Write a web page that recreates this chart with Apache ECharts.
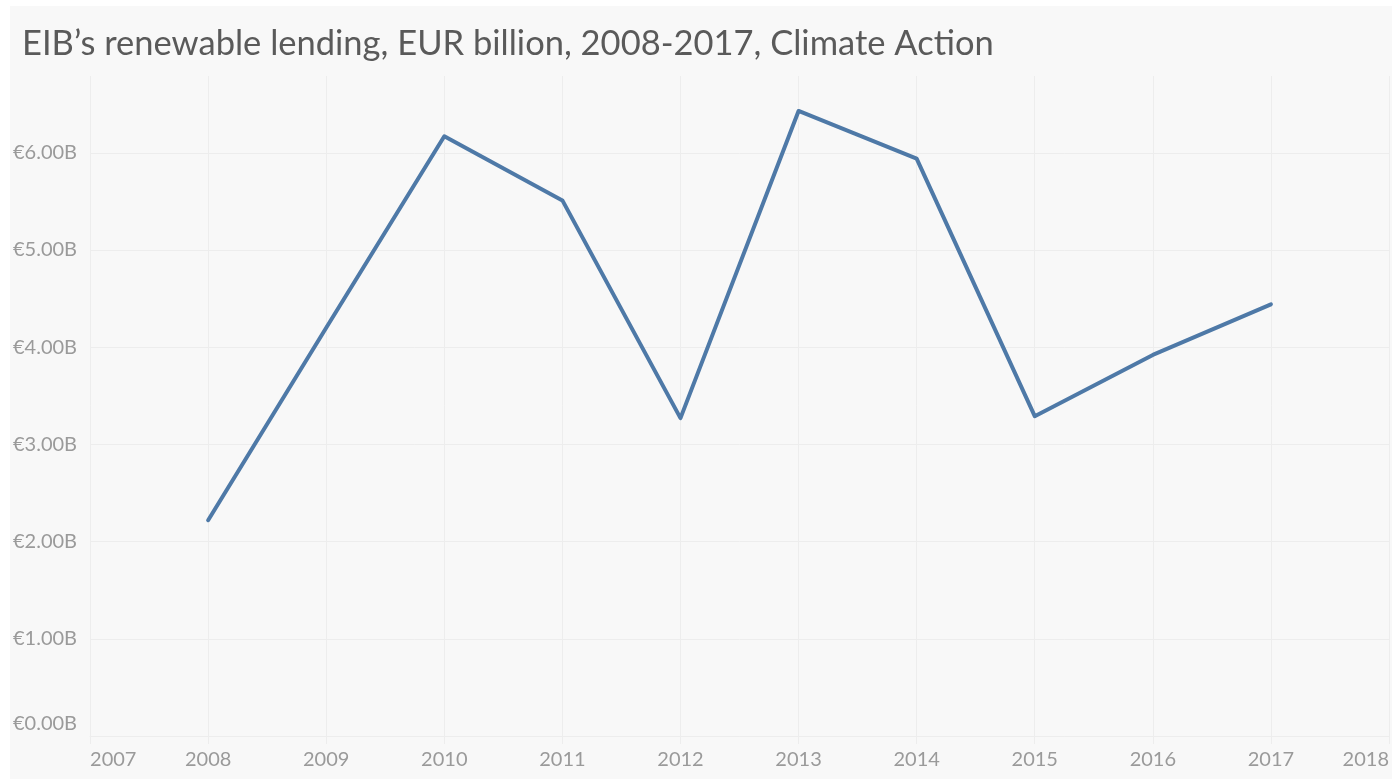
<!DOCTYPE html>
<html>
<head>
<meta charset="utf-8">
<title>EIB renewable lending</title>
<script src="https://cdn.jsdelivr.net/npm/echarts@6/dist/echarts.min.js"></script>
<style>
  html, body { margin: 0; padding: 0; background: #ffffff; }
  #main { position: absolute; left: 10px; top: 6px; width: 1382px; height: 773px; background: #f8f8f8; }
</style>
</head>
<body>
<div id="main"></div>
<script>
// data
var years = [2008, 2009, 2010, 2011, 2012, 2013, 2014, 2015, 2016, 2017];
var lending = [2.22, 4.20, 6.17, 5.51, 3.27, 6.43, 5.94, 3.29, 3.92, 4.44];
var titleText = 'EIB\u2019s renewable lending, EUR billion, 2008-2017, Climate Action';

var bg = '#f8f8f8';
var gridColor = '#ededed';
var labelColor = '#9a9a9a';

var points = years.map(function (y, i) { return [y, lending[i]]; });

var myChart = echarts.init(document.getElementById('main'));
myChart.setOption({
    backgroundColor: bg,
    animation: false,
    title: {
        text: titleText,
        left: 7,
        top: 15,
        textStyle: {
            fontFamily: 'Lato',
            fontSize: 34.5,
            fontWeight: 'normal',
            color: '#5a5a5a'
        }
    },
    grid: {
        left: 79,
        right: 1,
        top: 69,
        bottom: 43
    },
    // hide the split line that ECharts adds at the axis max (6.8)
    graphic: [{
        type: 'rect',
        left: 79,
        top: 68,
        shape: { width: 1310, height: 2 },
        style: { fill: bg },
        z: 5
    }],
    xAxis: {
        type: 'value',
        min: 2007,
        max: 2018,
        interval: 1,
        axisLine: { show: true, lineStyle: { color: gridColor, width: 1 } },
        axisTick: { show: true, length: 8, lineStyle: { color: gridColor } },
        splitLine: { show: true, lineStyle: { color: gridColor, width: 1 } },
        axisLabel: {
            color: labelColor,
            fontFamily: 'Lato',
            fontSize: 20,
            margin: 14,
            alignMinLabel: 'left',
            alignMaxLabel: 'right',
            formatter: function (v) { return String(v); }
        }
    },
    yAxis: {
        type: 'value',
        min: 0,
        max: 6.8,
        interval: 1,
        axisLine: { show: false },
        axisTick: { show: false },
        splitLine: { show: true, lineStyle: { color: gridColor, width: 1 } },
        axisLabel: {
            color: labelColor,
            fontFamily: 'Lato',
            fontSize: 20,
            margin: 13,
            formatter: function (v) {
                if (Math.abs(v - Math.round(v)) > 1e-6) return '';
                var s = '\u20ac' + v.toFixed(2) + 'B';
                return v === 0 ? '{z|' + s + '}' : s;
            },
            rich: {
                z: { color: labelColor, fontFamily: 'Lato', fontSize: 20, padding: [0, 0, 24, 0] }
            }
        }
    },
    series: [
        {
            name: 'Renewable lending',
            type: 'line',
            data: points,
            symbol: 'none',
            z: 10,
            lineStyle: { color: '#4e79a7', width: 4, cap: 'round', join: 'round' }
        }
    ]
});
</script>
</body>
</html>
